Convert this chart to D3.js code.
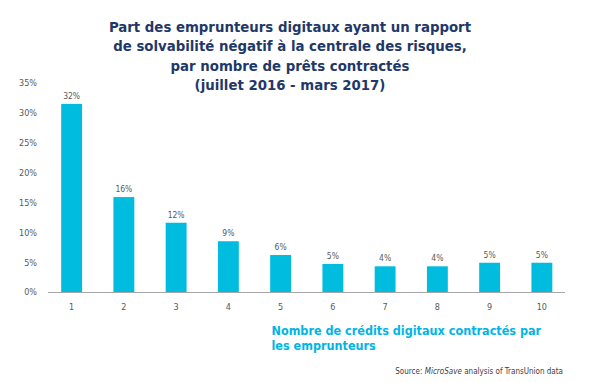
<!DOCTYPE html>
<html><head><meta charset="utf-8">
<script src="https://cdn.jsdelivr.net/npm/d3@7"></script>
<style>body{margin:0;background:#fff}svg{display:block}</style>
</head><body>
<script>
const categories = ["1","2","3","4","5","6","7","8","9","10"];
const values = [31.5, 15.9, 11.6, 8.5, 6.2, 4.7, 4.3, 4.3, 4.9, 4.9];
const valueLabels = ["32%","16%","12%","9%","6%","5%","4%","4%","5%","5%"];
const yTicks = [0,5,10,15,20,25,30,35];
const titleLines = ["Part des emprunteurs digitaux ayant un rapport","de solvabilité négatif à la centrale des risques,","par nombre de prêts contractés","(juillet 2016 - mars 2017)"];
const xTitleLines = ["Nombre de crédits digitaux contractés par","les emprunteurs"];

const W=593,H=383;
const svg=d3.select("body").append("svg").attr("width",W).attr("height",H);
const x=d3.scaleBand().domain(categories).range([45.5,568]).paddingInner(0.6).paddingOuter(0.3);
const y=d3.scaleLinear().domain([0,35]).range([292,83]);
const font="'DejaVu Sans Condensed','DejaVu Sans',sans-serif";

// title
svg.append("g").selectAll("text").data(titleLines).join("text")
  .attr("x",290).attr("y",(d,i)=>31.5+i*19.5).attr("text-anchor","middle")
  .attr("font-family",font).attr("font-weight","bold").attr("font-size",14.8)
  .attr("fill","#1f3868").text(d=>d);

// y axis labels
const yAxis=d3.axisLeft(y).tickValues(yTicks).tickFormat(d=>d+"%").tickSize(0).tickPadding(0);
const ga=svg.append("g").attr("transform","translate(37,0)").call(yAxis);
ga.select(".domain").remove();
ga.selectAll("text").attr("font-family",font).attr("font-size",9).attr("fill","#595959");

// bars
svg.append("g").selectAll("rect").data(values).join("rect")
  .attr("x",(d,i)=>x(categories[i])).attr("width",x.bandwidth())
  .attr("y",d=>y(d)).attr("height",d=>y(0)-y(d)).attr("fill","#00bde0");

// value labels
svg.append("g").selectAll("text").data(values).join("text")
  .attr("x",(d,i)=>x(categories[i])+x.bandwidth()/2).attr("y",d=>y(d)-5)
  .attr("text-anchor","middle").attr("font-family",font).attr("font-size",8.5)
  .attr("fill","#595959").text((d,i)=>valueLabels[i]);

// x axis
const xAxis=d3.axisBottom(x).tickSize(0).tickPadding(11);
const gx=svg.append("g").attr("transform","translate(0,292.5)").call(xAxis);
gx.select(".domain").remove();
gx.selectAll("text").attr("font-family",font).attr("font-size",9).attr("fill","#595959");
svg.append("line").attr("x1",48).attr("x2",565).attr("y1",292.5).attr("y2",292.5)
  .attr("stroke","#a6a6a6").attr("stroke-width",1);

// x title
svg.append("g").selectAll("text").data(xTitleLines).join("text")
  .attr("x",271.5).attr("y",(d,i)=>334.5+i*15.5)
  .attr("font-family",font).attr("font-weight","bold").attr("font-size",12.5)
  .attr("fill","#00b4e4").text(d=>d);

// source
const src=svg.append("text").attr("x",563).attr("y",373.5).attr("text-anchor","end")
  .attr("font-family",font).attr("font-size",8).attr("fill","#404040");
src.append("tspan").text("Source: ");
src.append("tspan").attr("font-style","italic").text("MicroSave");
src.append("tspan").text(" analysis of TransUnion data");
</script>
</body></html>
